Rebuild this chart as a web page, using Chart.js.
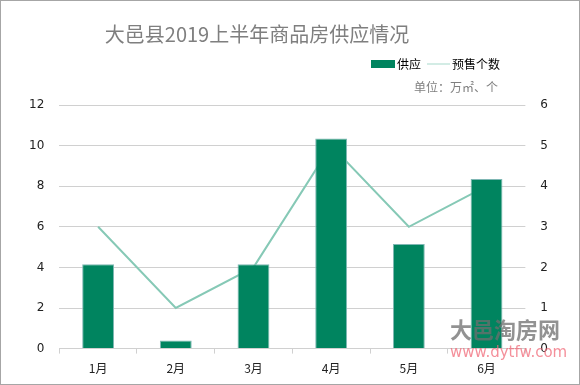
<!DOCTYPE html>
<html>
<head>
<meta charset="utf-8">
<script src="https://cdn.jsdelivr.net/npm/chart.js@4.4.0/dist/chart.umd.min.js"></script>
<style>
  body { margin: 0; background: #fff; }
  #wrap { width: 580px; height: 385px; box-sizing: border-box; border: 1px solid #a6a6a6; position: relative; }
</style>
</head>
<body>
<div id="wrap"><canvas id="supplyChart" width="578" height="383"></canvas></div>
<script>
var months = ["1月", "2月", "3月", "4月", "5月", "6月"];
var supplyData = [4.15, 0.4, 4.15, 10.35, 5.15, 8.35];   // 供应 (万㎡)
var presaleData = [3, 1, 2, 5, 3, 4];                      // 预售个数 (个)

var chartTitle = "大邑县2019上半年商品房供应情况";
var unitText = "单位：万㎡、个";

var barColor = "#00845f";
var lineColor = "#86c9b6";

// title, legend, unit and watermark drawn straight on the canvas
var decorPlugin = {
     id: 'decor',
     afterDraw: function(chart){
          var ctx = chart.ctx;
          ctx.save();
          ctx.textBaseline = 'middle';

          ctx.fillStyle = '#7f7f7f';
          ctx.font = '20px "Noto Sans CJK SC", sans-serif';
          ctx.textAlign = 'center';
          ctx.fillText(chartTitle, 256, 33);

          // legend
          ctx.fillStyle = barColor;
          ctx.fillRect(370, 59, 24, 8);
          ctx.fillStyle = '#000';
          ctx.font = '12px "Noto Sans CJK SC", sans-serif';
          ctx.textAlign = 'left';
          ctx.fillText('供应', 396, 63);
          ctx.strokeStyle = '#c5e6dc';
          ctx.lineWidth = 1.5;
          ctx.beginPath();
          ctx.moveTo(426, 63);
          ctx.lineTo(449, 63);
          ctx.stroke();
          ctx.fillText('预售个数', 451, 63);

          ctx.fillStyle = '#7f7f7f';
          ctx.textAlign = 'right';
          ctx.fillText(unitText, 497, 86);

          // watermark
          ctx.globalAlpha = 0.75;
          ctx.fillStyle = '#6d6d6d';
          ctx.font = 'bold 22px "Noto Sans CJK SC", sans-serif';
          ctx.textAlign = 'left';
          ctx.fillText('大邑淘房网', 449, 329);
          ctx.fillStyle = '#f06a78';
          ctx.font = '15px "DejaVu Sans", sans-serif';
          ctx.fillText('www.dytfw.com', 449, 352);
          ctx.restore();
     }
};

const ctx = document.getElementById('supplyChart').getContext('2d');

new Chart(ctx, {
     type: 'bar',
     data: {
          labels: months,
          datasets: [
               {
                    label: "供应",
                    data: supplyData,
                    backgroundColor: barColor,
                    borderColor: '#7fb7b4',
                    borderWidth: 1,
                    barPercentage: 0.41,
                    categoryPercentage: 1,
                    yAxisID: 'y',
                    order: 1
               },
               {
                    type: 'line',
                    label: "预售个数",
                    data: presaleData,
                    borderColor: lineColor,
                    borderWidth: 2,
                    pointRadius: 0,
                    tension: 0,
                    fill: false,
                    yAxisID: 'y1',
                    order: 2
               }
          ]
     },
     options: {
          responsive: false,
          animation: false,
          layout: {
               padding: { top: 104, left: 13, right: 16, bottom: 0 }
          },
          plugins: {
               legend: false,
               title: { display: false },
               tooltip: { enabled: false }
          },
          scales: {
               x: {
                    grid: {
                         display: true,
                         drawOnChartArea: false,
                         offset: true,
                         color: '#d0d0d0',
                         tickLength: 5
                    },
                    border: { color: '#d0d0d0' },
                    ticks: {
                         color: '#222',
                         font: { size: 12, family: '"Noto Sans CJK SC", sans-serif' },
                         padding: 8
                    }
               },
               y: {
                    position: 'left',
                    min: 0,
                    max: 12,
                    ticks: {
                         stepSize: 2,
                         color: '#222',
                         font: { size: 12, family: '"DejaVu Sans", sans-serif' },
                         padding: 15
                    },
                    grid: { color: '#d0d0d0', drawTicks: false },
                    border: { display: false }
               },
               y1: {
                    position: 'right',
                    min: 0,
                    max: 6,
                    ticks: {
                         stepSize: 1,
                         color: '#222',
                         font: { size: 12, family: '"DejaVu Sans", sans-serif' },
                         padding: 15
                    },
                    grid: { display: false, drawTicks: false },
                    border: { display: false }
               }
          }
     },
     plugins: [decorPlugin]
});
</script>
</body>
</html>
